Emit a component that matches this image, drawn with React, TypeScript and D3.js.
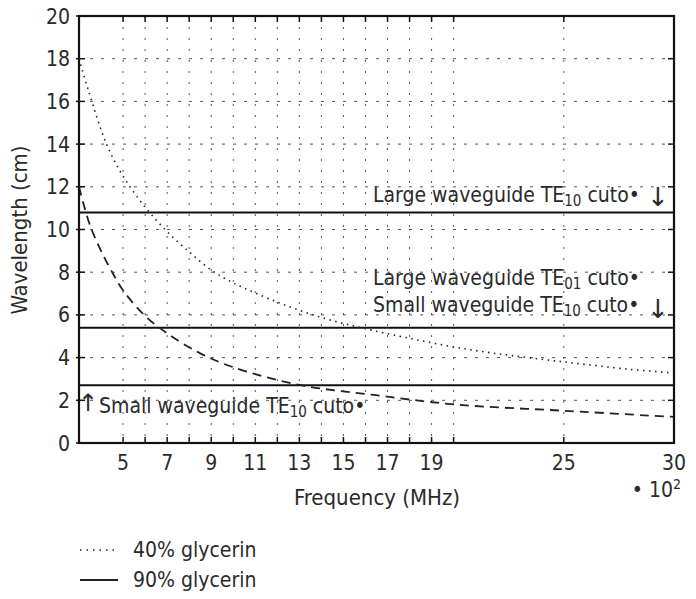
import React from "react";
import * as d3 from "d3";

const glyc40F = [3, 3.4, 4.25, 5, 6, 7, 8, 9, 10, 12, 14, 16, 18, 20, 22, 25, 28, 30];
const glyc40L = [18.0, 16.6, 14.0, 12.5, 11.05, 9.9, 8.95, 8.1, 7.5, 6.6, 5.88, 5.35, 4.9, 4.5, 4.18, 3.8, 3.45, 3.28];
const glyc90F = [3, 3.4, 3.65, 4, 4.4, 5, 6, 7, 8.5, 10, 13, 16.4, 20, 25, 30];
const glyc90L = [12.0, 10.5, 9.8, 9.0, 8.2, 7.15, 5.95, 5.14, 4.2, 3.55, 2.72, 2.25, 1.81, 1.51, 1.22];
const cutoffs = [10.8, 5.4, 2.7];
const xTicks = [5, 6, 7, 8, 9, 10, 11, 12, 13, 14, 15, 16, 17, 18, 19, 20, 25, 30];
const xLabels = [5, 7, 9, 11, 13, 15, 17, 19, 25, 30];
const yTicks = [0, 2, 4, 6, 8, 10, 12, 14, 16, 18, 20];

const FONT = "'Liberation Sans Narrow', 'DejaVu Sans Condensed', 'Open Sans', sans-serif";
const AFONT = "'DejaVu Sans'";
const TXT = "#2a2a2a";

export default function App() {
  const W = 696, H = 599;
  const L = 79, R = 674, T = 16, B = 443;
  const x = d3.scaleLinear().domain([3, 30]).range([L, R]);
  const y = d3.scaleLinear().domain([0, 20]).range([B, T]);
  const line = d3.line<[number, number]>().x(d => x(d[0])).y(d => y(d[1])).curve(d3.curveCatmullRom.alpha(0.5));
  const d40 = line(glyc40F.map((f, i) => [f, glyc40L[i]] as [number, number]))!;
  const d90 = line(glyc90F.map((f, i) => [f, glyc90L[i]] as [number, number]))!;

  const ann = (tx: number, ty: number, main: string, sub: string, key: string) => (
    <text key={key} x={tx} y={ty} fontFamily={FONT} fontSize={21} fill={TXT}>
      {main}
      <tspan fontSize={15} dy={4}>{sub}</tspan>
      <tspan dy={-4}> cuto•</tspan>
    </text>
  );

  return (
    <svg width={W} height={H} style={{ position: "absolute", left: 0, top: 0, background: "#fff" }}>
      {/* grid */}
      {xTicks.filter(t => t < 30).map(t => (
        <line key={"gx" + t} x1={x(t)} x2={x(t)} y1={T} y2={B} stroke="#555" strokeWidth={1} strokeDasharray="2,9" />
      ))}
      {yTicks.filter(t => t > 0 && t < 20).map(t => (
        <line key={"gy" + t} x1={L} x2={R} y1={y(t)} y2={y(t)} stroke="#555" strokeWidth={1} strokeDasharray="3,8" />
      ))}
      {/* ticks */}
      {xTicks.map(t => (
        <g key={"tx" + t}>
          <line x1={x(t)} x2={x(t)} y1={B} y2={B - 6} stroke="#111" strokeWidth={1.5} />
          <line x1={x(t)} x2={x(t)} y1={T} y2={T + 6} stroke="#111" strokeWidth={1.5} />
        </g>
      ))}
      {yTicks.map(t => (
        <g key={"ty" + t}>
          <line x1={L - 3} x2={L + 6} y1={y(t)} y2={y(t)} stroke="#111" strokeWidth={1.5} />
          <line x1={R} x2={R - 6} y1={y(t)} y2={y(t)} stroke="#111" strokeWidth={1.5} />
        </g>
      ))}
      {/* cutoff lines */}
      {cutoffs.map(c => (
        <line key={"c" + c} x1={L} x2={R} y1={y(c)} y2={y(c)} stroke="#111" strokeWidth={2} />
      ))}
      {/* curves */}
      <path d={d40} fill="none" stroke="#222" strokeWidth={1.6} strokeDasharray="1.5,4.5" />
      <path d={d90} fill="none" stroke="#222" strokeWidth={1.8} strokeDasharray="9,6" />
      {/* frame */}
      <rect x={L} y={T} width={R - L} height={B - T} fill="none" stroke="#111" strokeWidth={2.2} />
      {/* tick labels */}
      {yTicks.map(t => (
        <text key={"yl" + t} x={70} y={y(t) + 7.5} textAnchor="end" fontFamily={FONT} fontSize={21} fill={TXT}>{t}</text>
      ))}
      {xLabels.map(t => (
        <text key={"xl" + t} x={x(t)} y={470} textAnchor="middle" fontFamily={FONT} fontSize={21} fill={TXT}>{t}</text>
      ))}
      <text x={681} y={497} textAnchor="end" fontFamily={FONT} fontSize={21} fill={TXT}>
        • 10<tspan fontSize={14} dy={-8}>2</tspan>
      </text>
      {/* axis titles */}
      <text x={377} y={505} textAnchor="middle" fontFamily={FONT} fontSize={22} fill={TXT}>Frequency (MHz)</text>
      <text transform="translate(27,230) rotate(-90)" textAnchor="middle" fontFamily={FONT} fontSize={22} fill={TXT}>Wavelength (cm)</text>
      {/* annotations */}
      {ann(373, 202, "Large waveguide TE", "10", "a1")}
      <text x={658} y={206} textAnchor="middle" fontFamily={AFONT} fontSize={26} fill={TXT}>↓</text>
      {ann(373, 285, "Large waveguide TE", "01", "a2")}
      {ann(373, 312, "Small waveguide TE", "10", "a3")}
      <text x={658} y={318} textAnchor="middle" fontFamily={AFONT} fontSize={26} fill={TXT}>↓</text>
      <text x={78} y={411} fontFamily={AFONT} fontSize={24} fill={TXT}>↑</text>
      {ann(99, 413, "Small waveguide TE", "10", "a4")}
      {/* legend */}
      <line x1={80} x2={118} y1={550} y2={550} stroke="#222" strokeWidth={1.6} strokeDasharray="1.5,5" />
      <text x={133} y={557} fontFamily={FONT} fontSize={21} fill={TXT}>40% glycerin</text>
      <line x1={80} x2={118} y1={580} y2={580} stroke="#222" strokeWidth={2} />
      <text x={133} y={587} fontFamily={FONT} fontSize={21} fill={TXT}>90% glycerin</text>
    </svg>
  );
}
